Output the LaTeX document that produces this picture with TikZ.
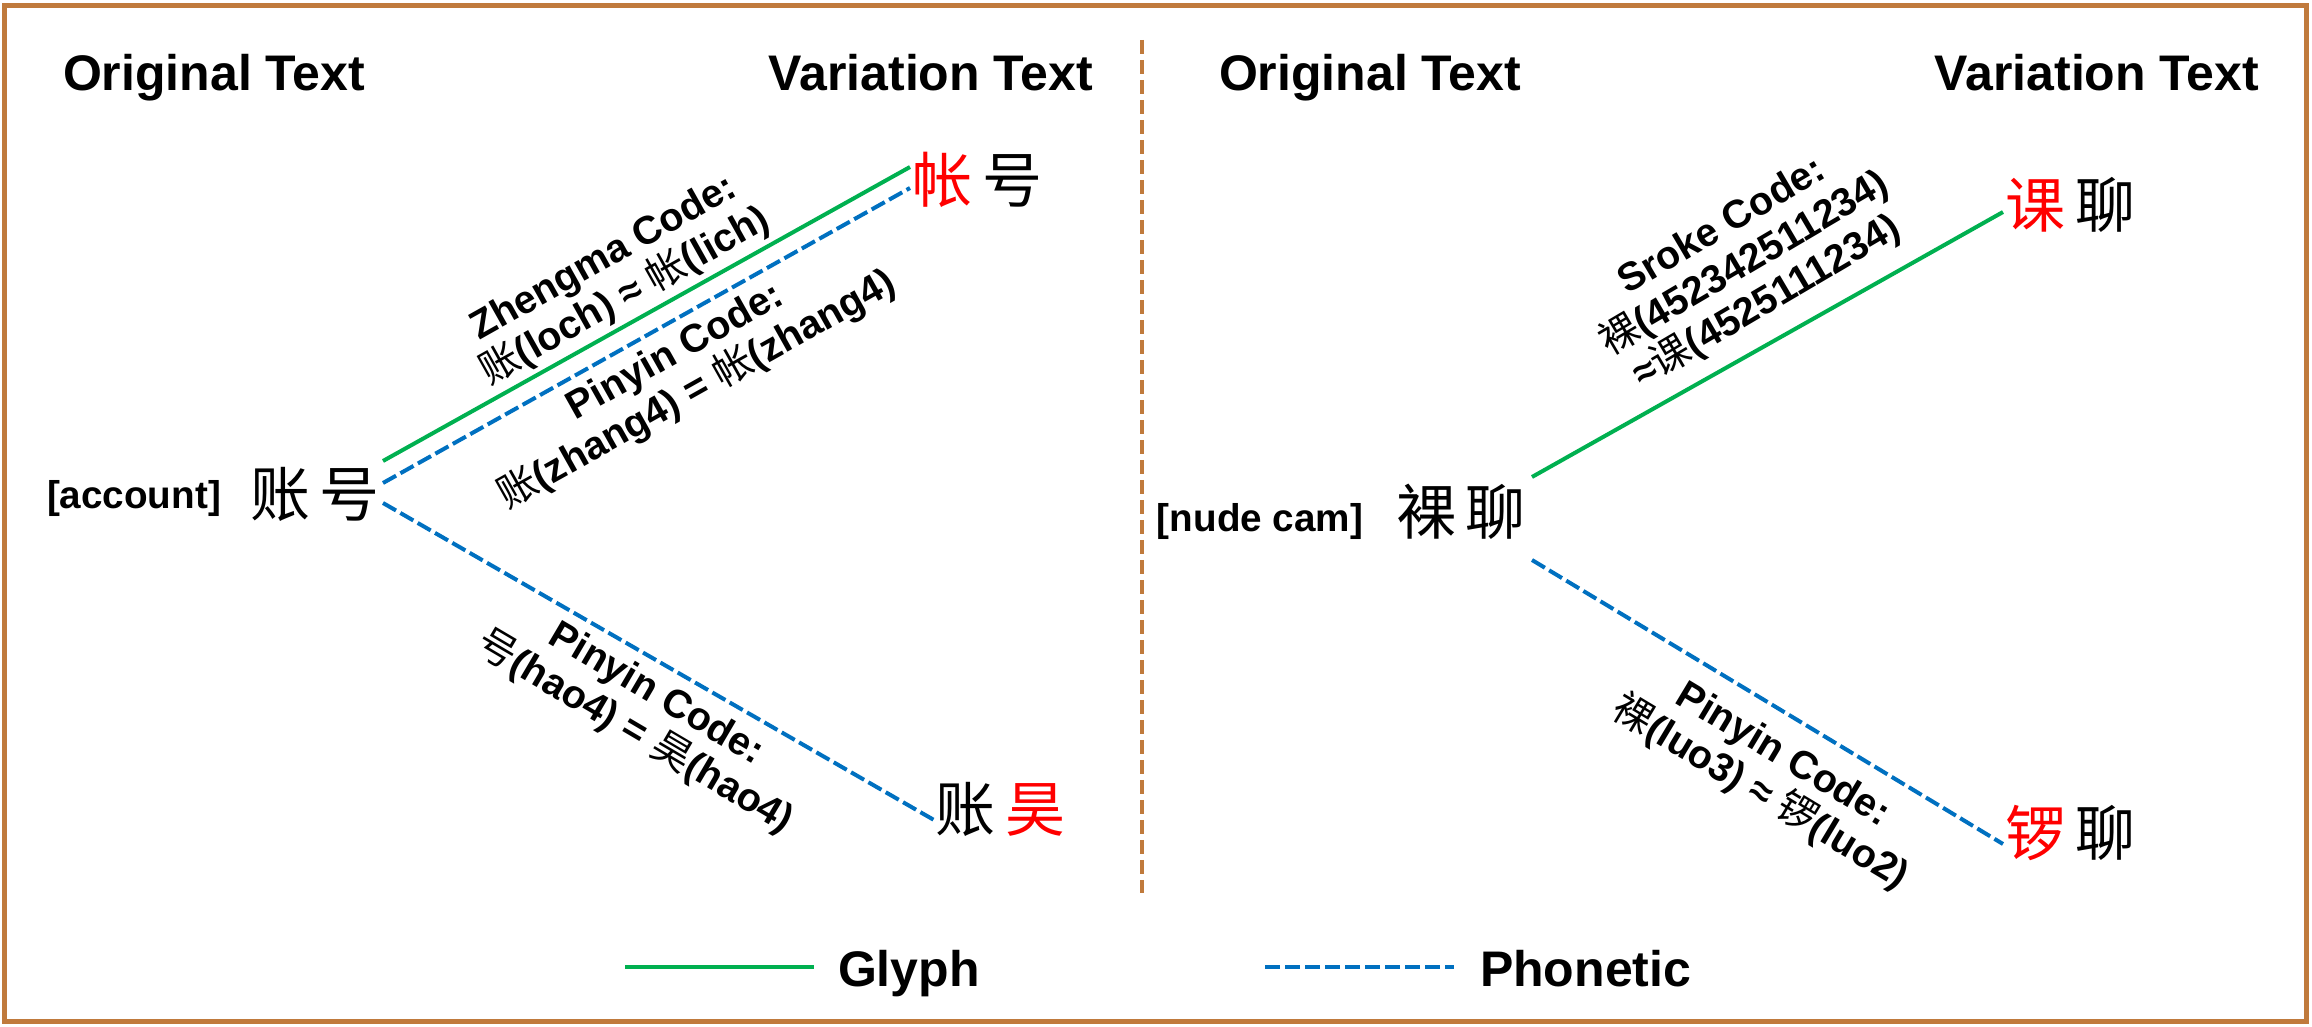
\documentclass[tikz,border=0pt]{standalone}
\usepackage{fontspec}
\setmainfont{Liberation Sans}
\newfontfamily\cjk{Noto Sans CJK SC}
\definecolor{brd}{RGB}{192,122,60}
\definecolor{glc}{RGB}{0,176,80}
\definecolor{phc}{RGB}{0,112,192}
\begin{document}
\begin{tikzpicture}[x=0.3pt,y=-0.3pt,
  every node/.style={inner sep=0pt,outer sep=0pt},
  head/.style={font=\fontsize{15}{17}\selectfont\bfseries},
  tag/.style={font=\fontsize{11.6}{13}\selectfont\bfseries},
  big/.style={font=\fontsize{18}{20}\selectfont\cjk},
  lab/.style={font=\fontsize{11.85}{13.2}\selectfont\bfseries,align=center},
  glyphline/.style={draw=glc,line width=1.2pt},
  phonline/.style={draw=phc,line width=1.2pt,dash pattern=on 4.5pt off 1.5pt},
  frame/.style={draw=brd,line width=1.5pt},
  divider/.style={draw=brd,line width=1.35pt,dash pattern=on 4.2pt off 1.8pt}]
\useasboundingbox (0,0) rectangle (2312,1027);
\draw[frame] (4,6) rectangle (2306,1021);
\coordinate (dT) at (1142,40);
\coordinate (dB) at (1142,893);
\draw[divider] (dT) -- (dB);

% headers
\node[head,anchor=base west] (oL) at (63,91) {Original Text};
\node[head,anchor=base east] (vL) at (1093,91) {Variation Text};
\node[head,anchor=base west] (oR) at (1219,91) {Original Text};
\node[head,anchor=base east] (vR) at (2259,91) {Variation Text};

% left panel
\node[tag,anchor=base] (acc) at (134,509) {[account]};
\node[big] (s1) at (315,494) {账\hspace{3pt}号};
\node[big] (v1) at (977,180) {\textcolor{red}{帐}\hspace{3pt}号};
\node[big] (v2) at (1000,809) {账\hspace{3pt}\textcolor{red}{昊}};

\coordinate (g1a) at (383,461);
\coordinate (g1b) at (910,167);
\coordinate (p1a) at (383,483);
\coordinate (p1b) at (910,188);
\coordinate (p2a) at (383,503);
\coordinate (p2b) at (934,820);
\draw[glyphline] (g1a) -- (g1b);
\draw[phonline] (p1a) -- (p1b);
\draw[phonline] (p2a) -- (p2b);

\node[lab,rotate=29.3] (lz) at (615,278) {Zhengma Code:\\{\cjk\mdseries 账}(loch) ≈ {\cjk\mdseries 帐}(lich)};
\node[lab,rotate=29.3] (lp1) at (687,372) {Pinyin Code:\\{\cjk\mdseries 账}(zhang4) = {\cjk\mdseries 帐}(zhang4)};
\node[lab,rotate=-30.5] (lp2) at (645,714) {Pinyin Code:\\{\cjk\mdseries 号}(hao4) = {\cjk\mdseries 昊}(hao4)};

% right panel
\node[tag,anchor=base] (nude) at (1260,532) {[nude cam]};
\node[big] (s2) at (1461,512) {裸\hspace{3pt}聊};
\node[big] (v3) at (2070,205) {\textcolor{red}{课}\hspace{3pt}聊};
\node[big] (v4) at (2070,833) {\textcolor{red}{锣}\hspace{3pt}聊};

\coordinate (g2a) at (1532,477);
\coordinate (g2b) at (2003,212);
\coordinate (p3a) at (1532,560);
\coordinate (p3b) at (2003,844);
\draw[glyphline] (g2a) -- (g2b);
\draw[phonline] (p3a) -- (p3b);

\node[lab,rotate=30.5] (ls) at (1745,265) {Sroke Code:\\{\cjk\mdseries 裸}(452342511234)\\≈{\cjk\mdseries 课}(4525111234)};
\node[lab,rotate=-31] (lp3) at (1771,775) {Pinyin Code:\\{\cjk\mdseries 裸}(luo3) ≈ {\cjk\mdseries 锣}(luo2)};

% legend
\coordinate (lg1) at (625,967);
\coordinate (lg2) at (814,967);
\coordinate (lp1a) at (1265,967);
\coordinate (lp1b) at (1454,967);
\draw[glyphline] (lg1) -- (lg2);
\draw[phonline] (lp1a) -- (lp1b);
\node[head,anchor=base west] (glyph) at (838,986) {Glyph};
\node[head,anchor=base west] (phon) at (1480,986) {Phonetic};
\end{tikzpicture}
\end{document}
